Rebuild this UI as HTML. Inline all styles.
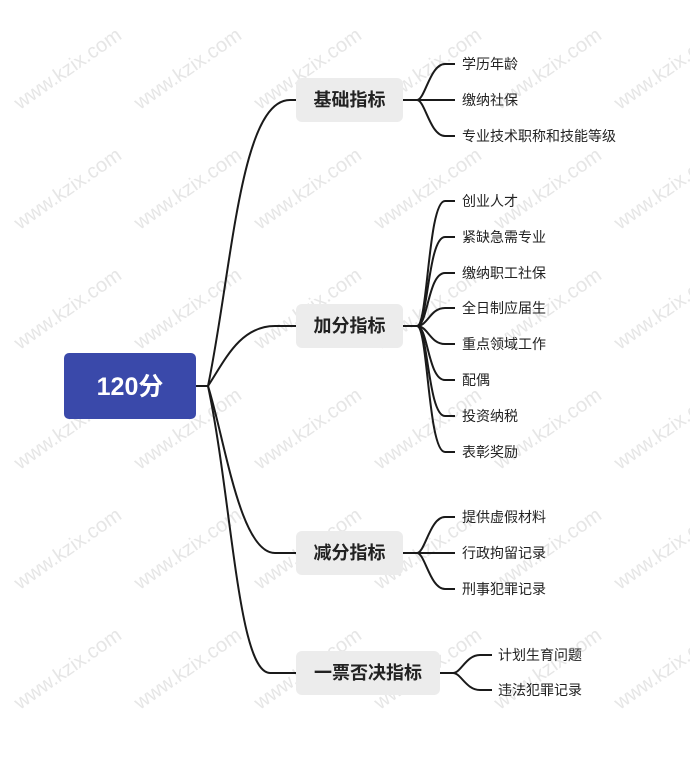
<!DOCTYPE html>
<html><head><meta charset="utf-8"><style>
html,body{margin:0;padding:0;background:#fff;}
body{width:690px;height:761px;overflow:hidden;position:relative;font-family:"Liberation Sans","Noto Sans CJK SC",sans-serif;}
svg{position:absolute;left:0;top:0;}
</style></head><body>
<svg width="690" height="761" viewBox="0 0 690 761" xmlns="http://www.w3.org/2000/svg">
<g font-family="Liberation Sans, Noto Sans CJK SC, sans-serif" font-size="20" fill="#e6e6e6">
<text transform="translate(20,110) rotate(-35)">www.kzix.com</text>
<text transform="translate(140,110) rotate(-35)">www.kzix.com</text>
<text transform="translate(260,110) rotate(-35)">www.kzix.com</text>
<text transform="translate(380,110) rotate(-35)">www.kzix.com</text>
<text transform="translate(500,110) rotate(-35)">www.kzix.com</text>
<text transform="translate(620,110) rotate(-35)">www.kzix.com</text>
<text transform="translate(20,230) rotate(-35)">www.kzix.com</text>
<text transform="translate(140,230) rotate(-35)">www.kzix.com</text>
<text transform="translate(260,230) rotate(-35)">www.kzix.com</text>
<text transform="translate(380,230) rotate(-35)">www.kzix.com</text>
<text transform="translate(500,230) rotate(-35)">www.kzix.com</text>
<text transform="translate(620,230) rotate(-35)">www.kzix.com</text>
<text transform="translate(20,350) rotate(-35)">www.kzix.com</text>
<text transform="translate(140,350) rotate(-35)">www.kzix.com</text>
<text transform="translate(260,350) rotate(-35)">www.kzix.com</text>
<text transform="translate(380,350) rotate(-35)">www.kzix.com</text>
<text transform="translate(500,350) rotate(-35)">www.kzix.com</text>
<text transform="translate(620,350) rotate(-35)">www.kzix.com</text>
<text transform="translate(20,470) rotate(-35)">www.kzix.com</text>
<text transform="translate(140,470) rotate(-35)">www.kzix.com</text>
<text transform="translate(260,470) rotate(-35)">www.kzix.com</text>
<text transform="translate(380,470) rotate(-35)">www.kzix.com</text>
<text transform="translate(500,470) rotate(-35)">www.kzix.com</text>
<text transform="translate(620,470) rotate(-35)">www.kzix.com</text>
<text transform="translate(20,590) rotate(-35)">www.kzix.com</text>
<text transform="translate(140,590) rotate(-35)">www.kzix.com</text>
<text transform="translate(260,590) rotate(-35)">www.kzix.com</text>
<text transform="translate(380,590) rotate(-35)">www.kzix.com</text>
<text transform="translate(500,590) rotate(-35)">www.kzix.com</text>
<text transform="translate(620,590) rotate(-35)">www.kzix.com</text>
<text transform="translate(20,710) rotate(-35)">www.kzix.com</text>
<text transform="translate(140,710) rotate(-35)">www.kzix.com</text>
<text transform="translate(260,710) rotate(-35)">www.kzix.com</text>
<text transform="translate(380,710) rotate(-35)">www.kzix.com</text>
<text transform="translate(500,710) rotate(-35)">www.kzix.com</text>
<text transform="translate(620,710) rotate(-35)">www.kzix.com</text>
</g>
<g fill="none" stroke="#1a1a1a" stroke-width="2">
<path d="M196 386 H208"/>
<path d="M208 386 C232 270 240 100 290 100 H296"/>
<path d="M208 386 C225 360 240 326 275 326 H296"/>
<path d="M208 386 C225 440 240 553 275 553 H296"/>
<path d="M208 386 C232 500 238 673 270 673 H296"/>
<path d="M403 100 H417"/>
<path d="M417 100 C425 100 430 64 445 64 H455"/>
<path d="M417 100 H455"/>
<path d="M417 100 C425 100 430 136 445 136 H455"/>
<path d="M403 326 H417"/>
<path d="M417 326 C428 326 428 201 445 201 H455"/>
<path d="M417 326 C428 326 428 237 445 237 H455"/>
<path d="M417 326 C428 326 428 273 445 273 H455"/>
<path d="M417 326 C428 326 430 308 445 308 H455"/>
<path d="M417 326 C428 326 430 344 445 344 H455"/>
<path d="M417 326 C428 326 428 380 445 380 H455"/>
<path d="M417 326 C428 326 428 416 445 416 H455"/>
<path d="M417 326 C428 326 428 452 445 452 H455"/>
<path d="M403 553 H417"/>
<path d="M417 553 C425 553 430 517 445 517 H455"/>
<path d="M417 553 H455"/>
<path d="M417 553 C425 553 430 589 445 589 H455"/>
<path d="M440 673 H453"/>
<path d="M453 673 C461 673 466 655 480 655 H492"/>
<path d="M453 673 C461 673 466 690 480 690 H492"/>
</g>
<rect x="64" y="353" width="132" height="66" rx="5" fill="#3a49aa"/>
<text x="130" y="395" text-anchor="middle" font-family="Liberation Sans, Noto Sans CJK SC, sans-serif" font-size="25" font-weight="bold" fill="#fff">120分</text>
<g fill="#ececec">
<rect x="296" y="78" width="107" height="44" rx="6"/>
<rect x="296" y="304" width="107" height="44" rx="6"/>
<rect x="296" y="531" width="107" height="44" rx="6"/>
<rect x="296" y="651" width="144" height="44" rx="6"/>
</g>
<g font-family="Liberation Sans, Noto Sans CJK SC, sans-serif" font-size="18" font-weight="bold" fill="#222" text-anchor="middle">
<text x="349.5" y="106">基础指标</text>
<text x="349.5" y="332">加分指标</text>
<text x="349.5" y="559">减分指标</text>
<text x="368" y="679">一票否决指标</text>
</g>
<g font-family="Liberation Sans, Noto Sans CJK SC, sans-serif" font-size="14" fill="#222">
<text x="462" y="69">学历年龄</text>
<text x="462" y="105">缴纳社保</text>
<text x="462" y="141">专业技术职称和技能等级</text>
<text x="462" y="206">创业人才</text>
<text x="462" y="242">紧缺急需专业</text>
<text x="462" y="278">缴纳职工社保</text>
<text x="462" y="313">全日制应届生</text>
<text x="462" y="349">重点领域工作</text>
<text x="462" y="385">配偶</text>
<text x="462" y="421">投资纳税</text>
<text x="462" y="457">表彰奖励</text>
<text x="462" y="522">提供虚假材料</text>
<text x="462" y="558">行政拘留记录</text>
<text x="462" y="594">刑事犯罪记录</text>
<text x="498" y="660">计划生育问题</text>
<text x="498" y="695">违法犯罪记录</text>
</g>
</svg>
</body></html>
